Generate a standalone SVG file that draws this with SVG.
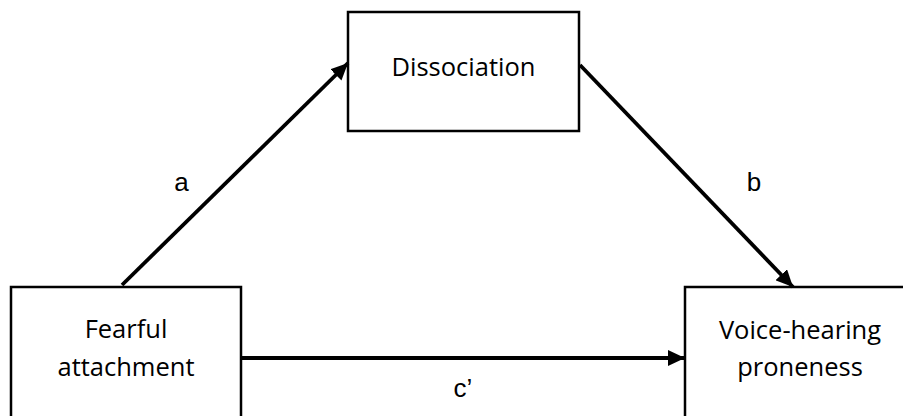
<svg xmlns="http://www.w3.org/2000/svg" width="903" height="416" viewBox="0 0 903 416">
<style>
.box{fill:#fff;stroke:#000;stroke-width:2.5}
.t{font-family:"Open Sans","Noto Sans",sans-serif;font-size:25.5px;fill:#000;text-anchor:middle}
.l{font-family:"Liberation Sans",Arial,sans-serif;font-size:26px;fill:#000;text-anchor:middle}
.c{stroke:#000;stroke-width:3.8;fill:none}
</style>
<defs>
<marker id="ah" markerUnits="userSpaceOnUse" markerWidth="18" markerHeight="16" refX="17" refY="8" orient="auto">
<path d="M0,0 L17,8 L0,16 Z" fill="#000"/>
</marker>
</defs>
<g id="node-dissociation">
<rect class="box" x="348" y="12" width="231" height="119"/>
<text class="t" x="463.5" y="76">Dissociation</text>
</g>
<g id="node-fearful">
<rect class="box" x="11" y="287" width="230" height="150"/>
<text class="t" x="126" y="338">Fearful</text>
<text class="t" x="126" y="376">attachment</text>
</g>
<g id="node-voice">
<rect class="box" x="685" y="287" width="230" height="150"/>
<text class="t" x="800" y="339">Voice-hearing</text>
<text class="t" x="800" y="376">proneness</text>
</g>
<g id="connectors">
<line class="c" x1="122" y1="285" x2="348" y2="63" marker-end="url(#ah)"/>
<line class="c" x1="580" y1="65" x2="793" y2="287" marker-end="url(#ah)"/>
<line class="c" x1="241" y1="358" x2="685" y2="358" marker-end="url(#ah)"/>
<text class="l" x="181.5" y="191">a</text>
<text class="l" x="754" y="191">b</text>
<text class="l" x="463" y="397">c’</text>
</g>
</svg>
